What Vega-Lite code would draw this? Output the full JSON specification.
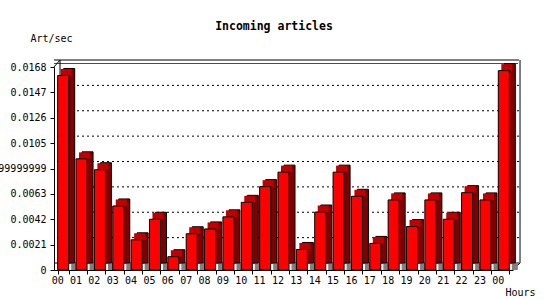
{
  "$schema": "https://vega.github.io/schema/vega-lite/v6.json",
  "width": 459,
  "height": 203,
  "autosize": {"type": "none"},
  "padding": {"left": 54, "top": 67, "right": 37, "bottom": 30},
  "background": "white",
  "config": {
    "view": {"stroke": null},
    "font": "DejaVu Sans Mono",
    "axis": {"grid": false, "ticks": false, "labels": false, "domain": false, "title": null, "labelOverlap": false, "labelBound": false, "labelFlush": false}
  },
  "title": {
    "text": "Incoming articles",
    "font": "DejaVu Sans Mono",
    "fontSize": 11.5,
    "fontWeight": "bold",
    "color": "black",
    "anchor": "middle",
    "dx": -9.5,
    "baseline": "alphabetic",
    "offset": -8.5
  },
  "datasets": {
    "traffic": [
      {"hour": "00", "rate": 0.0161},
      {"hour": "01", "rate": 0.0092},
      {"hour": "02", "rate": 0.0083},
      {"hour": "03", "rate": 0.0053},
      {"hour": "04", "rate": 0.0025},
      {"hour": "05", "rate": 0.0042},
      {"hour": "06", "rate": 0.0011},
      {"hour": "07", "rate": 0.0030},
      {"hour": "08", "rate": 0.0034},
      {"hour": "09", "rate": 0.0044},
      {"hour": "10", "rate": 0.0056},
      {"hour": "11", "rate": 0.0069},
      {"hour": "12", "rate": 0.0081},
      {"hour": "13", "rate": 0.0017},
      {"hour": "14", "rate": 0.0048},
      {"hour": "15", "rate": 0.0081},
      {"hour": "16", "rate": 0.0061},
      {"hour": "17", "rate": 0.0022},
      {"hour": "18", "rate": 0.0058},
      {"hour": "19", "rate": 0.0036},
      {"hour": "20", "rate": 0.0058},
      {"hour": "21", "rate": 0.0042},
      {"hour": "22", "rate": 0.0064},
      {"hour": "23", "rate": 0.0058},
      {"hour": "24", "rate": 0.0165}
    ],
    "gridlines": [
      {"level": 0.0021},
      {"level": 0.0042},
      {"level": 0.0063},
      {"level": 0.0084},
      {"level": 0.0105},
      {"level": 0.0126},
      {"level": 0.0147}
    ],
    "toplevel": [{"level": 0.0168}],
    "floor": [{"level": 0}]
  },
  "layer": [
    {
      "data": {"name": "gridlines"},
      "mark": {"type": "rule", "color": "black", "strokeDash": [2, 3], "xOffset": 6, "x2Offset": 6, "yOffset": -7},
      "encoding": {
        "y": {"field": "level", "type": "quantitative"}
      }
    },
    {
      "data": {"name": "toplevel"},
      "mark": {"type": "rule", "color": "black", "xOffset": 6, "x2Offset": 6, "yOffset": -7},
      "encoding": {
        "y": {"field": "level", "type": "quantitative"}
      }
    },
    {
      "data": {"name": "floor"},
      "mark": {"type": "rule", "color": "black", "xOffset": 6, "x2Offset": 6, "yOffset": -7},
      "encoding": {
        "y": {"field": "level", "type": "quantitative"}
      }
    },
    {
      "data": {"name": "toplevel"},
      "mark": {"type": "rule", "color": "#ff0000", "xOffset": 5, "x2Offset": 5, "yOffset": -3.5},
      "encoding": {
        "y": {"field": "level", "type": "quantitative"}
      }
    },
    {
      "data": {"name": "toplevel"},
      "mark": {"type": "rule", "color": "black", "xOffset": 2.33, "yOffset": -7, "y2Offset": -7},
      "encoding": {
        "x": {"datum": "00", "type": "nominal", "bandPosition": 0},
        "y": {"field": "level", "type": "quantitative"},
        "y2": {"datum": 0}
      }
    },
    {
      "data": {"name": "toplevel"},
      "mark": {"type": "rule", "color": "black", "xOffset": 10.7, "yOffset": -7, "y2Offset": -7},
      "encoding": {
        "x": {"datum": "24", "type": "nominal", "bandPosition": 1},
        "y": {"field": "level", "type": "quantitative"},
        "y2": {"datum": 0}
      }
    },
    {
      "data": {"name": "toplevel"},
      "mark": {"type": "rule", "color": "black", "xOffset": -3.67, "x2Offset": 2.33, "y2Offset": -7},
      "encoding": {
        "x": {"datum": "00", "type": "nominal", "bandPosition": 0},
        "x2": {"datum": "00", "bandPosition": 0},
        "y": {"field": "level", "type": "quantitative"},
        "y2": {"field": "level"}
      }
    },
    {
      "data": {"name": "floor"},
      "mark": {"type": "rule", "color": "black", "xOffset": 3.67, "x2Offset": 10.7, "y2Offset": -7},
      "encoding": {
        "x": {"datum": "24", "type": "nominal", "bandPosition": 1},
        "x2": {"datum": "24", "bandPosition": 1},
        "y": {"field": "level", "type": "quantitative"},
        "y2": {"field": "level"}
      }
    },
    {
      "data": {"name": "traffic"},
      "mark": {"type": "bar", "color": "#808080", "xOffset": 11, "yOffset": -7, "y2Offset": 0, "width": 6},
      "encoding": {
        "x": {"field": "hour", "type": "nominal"},
        "y": {"datum": 0, "type": "quantitative"},
        "y2": {"datum": 0}
      }
    },
    {
      "data": {"name": "traffic"},
      "mark": {"type": "bar", "color": "#800000", "stroke": "black", "strokeWidth": 1, "xOffset": 6, "yOffset": -7, "y2Offset": -7},
      "encoding": {
        "x": {"field": "hour", "type": "nominal"},
        "y": {"field": "rate", "type": "quantitative"}
      }
    },
    {
      "data": {"name": "traffic"},
      "mark": {"type": "bar", "color": "#c00000", "xOffset": 3, "yOffset": -6.5, "y2Offset": 0},
      "encoding": {
        "x": {"field": "hour", "type": "nominal"},
        "y": {"field": "rate", "type": "quantitative"},
        "y2": {"field": "rate"}
      }
    },
    {
      "data": {"name": "traffic"},
      "mark": {"type": "bar", "color": "#ff0000", "stroke": "black", "strokeWidth": 1},
      "encoding": {
        "x": {
          "field": "hour",
          "type": "nominal",
          "sort": null,
          "scale": {"paddingInner": 0.4, "paddingOuter": 0.2},
          "axis": {
            "title": "Hours",
            "titleFont": "DejaVu Sans Mono",
            "titleFontSize": 10,
            "titleFontWeight": "normal",
            "titleColor": "black",
            "titleAlign": "left",
            "titleBaseline": "alphabetic",
            "titleAnchor": "start",
            "titleX": 451,
            "titleY": 25,
            "labels": true,
            "ticks": true,
            "domain": true,
            "labelOverlap": false,
            "labelExpr": "datum.value == '24' ? '00' : datum.value",
            "labelAngle": 0,
            "labelFont": "DejaVu Sans Mono",
            "labelFontSize": 10,
            "labelColor": "black",
            "labelBaseline": "alphabetic",
            "labelPadding": 9.5,
            "tickBand": "extent",
            "tickSize": 4,
            "tickColor": "black",
            "domainColor": "black",
            "grid": false
          }
        },
        "y": {
          "field": "rate",
          "type": "quantitative",
          "scale": {"domain": [0, 0.0168], "nice": false, "zero": true},
          "axis": {
            "title": "Art/sec",
            "titleFont": "DejaVu Sans Mono",
            "titleFontSize": 10,
            "titleFontWeight": "normal",
            "titleColor": "black",
            "titleAngle": 0,
            "titleAlign": "left",
            "titleBaseline": "alphabetic",
            "titleX": -24,
            "titleY": -26,
            "labels": true,
            "ticks": true,
            "domain": true,
            "labelOverlap": false,
            "values": [0, 0.0021, 0.0042, 0.0063, 0.0084, 0.0105, 0.0126, 0.0147, 0.0168],
            "tickCount": 9,
            "labelExpr": "datum.value == 0 ? '0' : (datum.value == 0.0084 ? '0.0083999999999999' : format(datum.value, '.4f'))",
            "labelFont": "DejaVu Sans Mono",
            "labelFontSize": 10,
            "labelColor": "black",
            "labelPadding": 4,
            "tickSize": 4,
            "tickColor": "black",
            "domainColor": "black",
            "grid": false
          }
        }
      }
    }
  ]
}
